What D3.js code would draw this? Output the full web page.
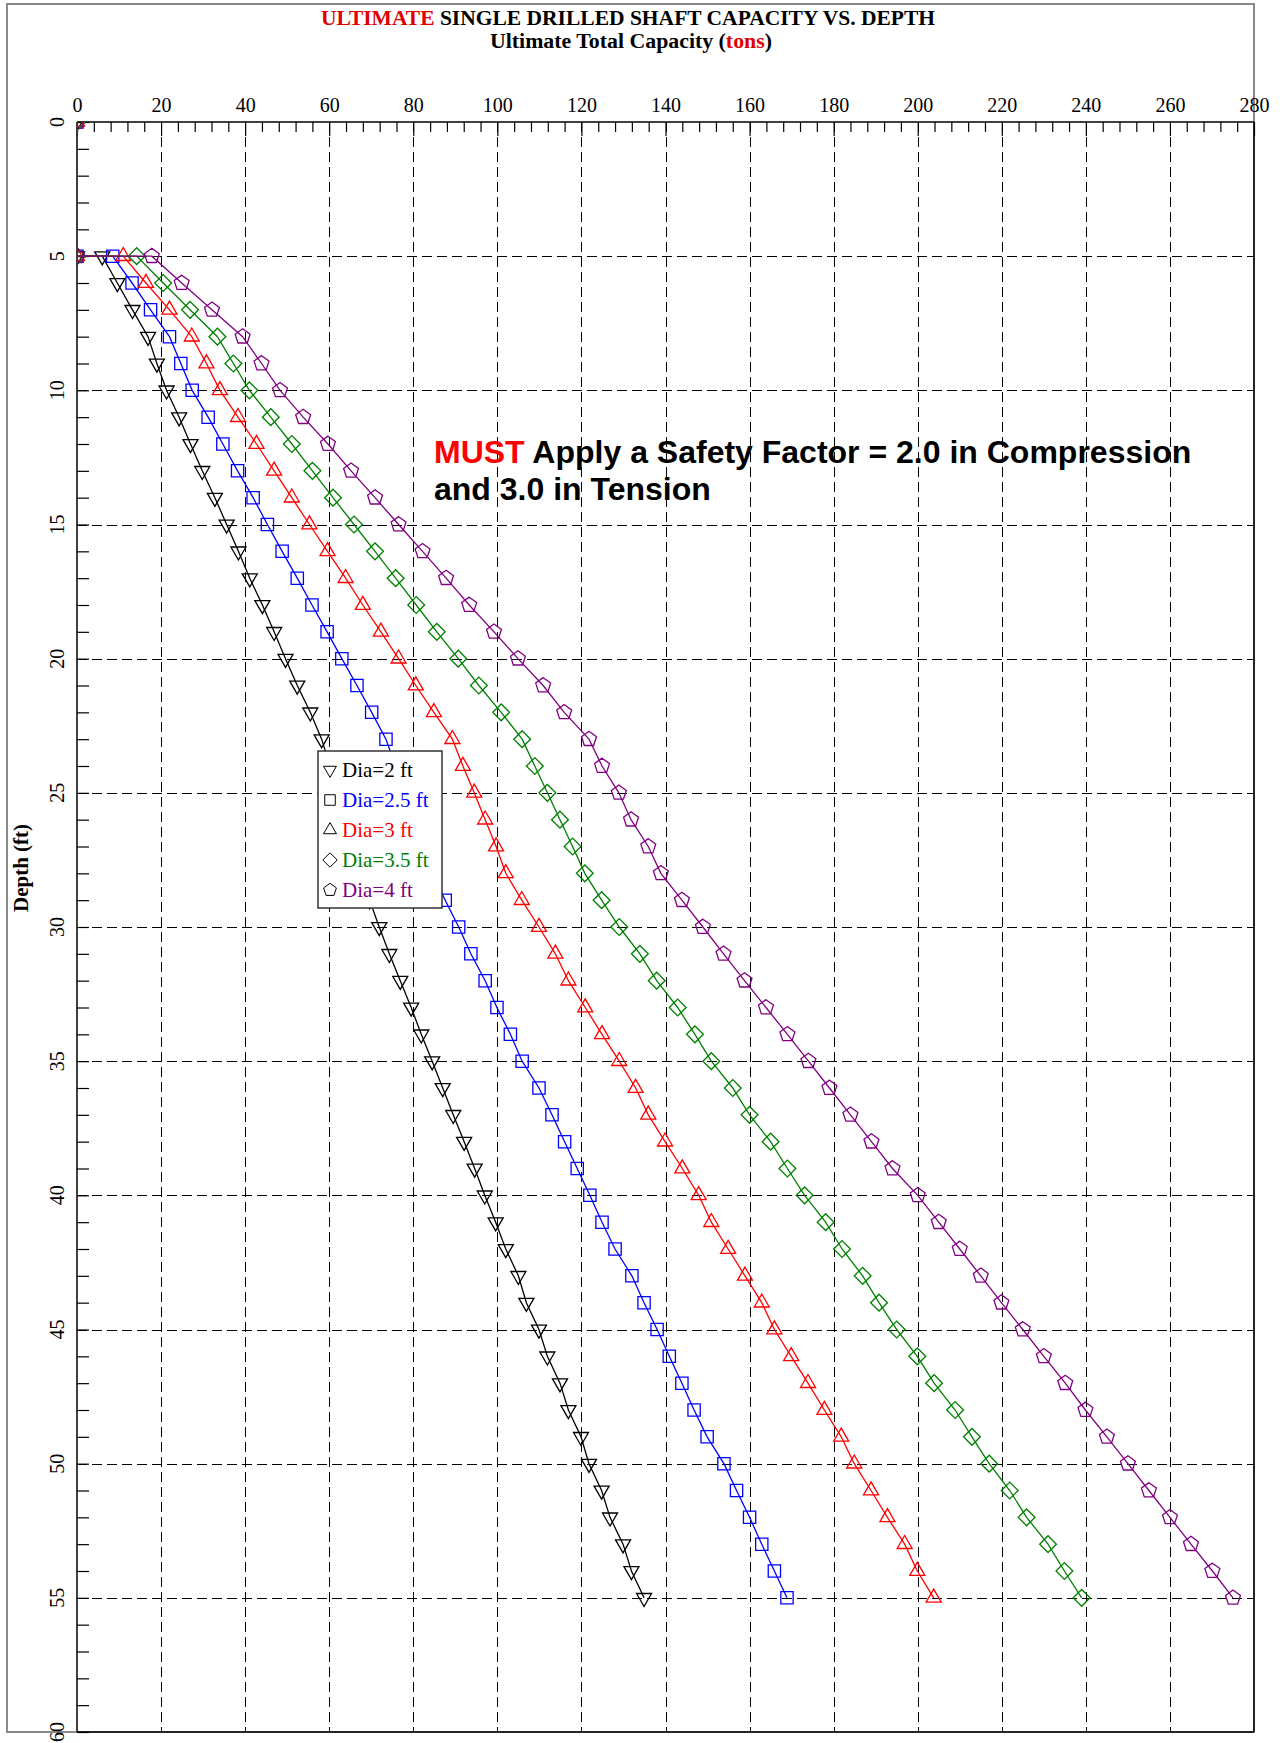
<!DOCTYPE html>
<html lang="en">
<head>
<meta charset="UTF-8">
<title>Ultimate Single Drilled Shaft Capacity vs. Depth</title>
<script src="https://d3js.org/d3.v7.min.js"></script>
<style>
    body { margin: 0; background: #fff; }
    svg { display: block; }
    .serif { font-family: "Liberation Serif", "Times New Roman", serif; }
    .sans { font-family: "Liberation Sans", Arial, sans-serif; }
    .grid line { stroke: #000; stroke-width: 1; stroke-dasharray: 10,5; }
    .axis path { display: none; }
    .axis line { stroke: #000; stroke-width: 1.2; }
</style>
</head>
<body>
<svg id="chart" width="1282" height="1743"></svg>
<script>
// depth of every point (ft); top 5 ft are zero, then a jump at 5 ft
const depths = [0, 5, 5, 6, 7, 8, 9, 10, 11, 12, 13, 14, 15, 16, 17, 18, 19, 20,
    21, 22, 23, 24, 25, 26, 27, 28, 29, 30, 31, 32, 33, 34, 35, 36, 37, 38, 39, 40,
    41, 42, 43, 44, 45, 46, 47, 48, 49, 50, 51, 52, 53, 54, 55];

// ultimate total capacity (tons) for each diameter
const dia2 = [0, 0, 6.0, 9.6, 13.2, 16.9, 19.0, 21.3, 24.3, 27.0, 29.8, 32.8, 35.6, 38.4, 41.1, 44.1, 46.9, 49.6,
    52.4, 55.5, 58.2, 60.2, 62.2, 64.2, 66.0, 67.8, 69.6, 71.9, 74.3, 76.9, 79.5, 81.9, 84.5, 87.0, 89.5, 92.1, 94.6, 97.0,
    99.6, 102.0, 105.0, 106.9, 109.9, 111.9, 114.9, 116.9, 119.9, 121.8, 124.8, 126.8, 129.9, 131.9, 134.9];
const dia25 = [0, 0, 8.5, 13.1, 17.5, 22.0, 24.7, 27.4, 31.2, 34.7, 38.2, 41.9, 45.3, 48.8, 52.4, 55.9, 59.5, 63.0,
    66.6, 70.1, 73.5, 75.8, 78.0, 80.2, 82.4, 84.5, 87.6, 90.8, 93.7, 97.1, 99.9, 103.1, 105.9, 109.9, 113.0, 116.0, 119.0, 122.0,
    124.9, 128.0, 132.0, 134.9, 138.0, 140.9, 143.9, 146.8, 149.9, 153.9, 156.9, 160.0, 162.9, 165.9, 168.9];
const dia3 = [0, 0, 11.0, 16.4, 22.0, 27.3, 30.8, 34.0, 38.3, 42.7, 46.9, 51.1, 55.3, 59.6, 63.9, 68.0, 72.3, 76.5,
    80.6, 84.9, 89.3, 91.8, 94.5, 97.1, 99.7, 102.0, 105.8, 109.9, 113.8, 116.9, 120.9, 124.9, 129.0, 132.9, 135.9, 139.9, 144.0, 147.9,
    150.9, 154.9, 158.9, 162.9, 165.9, 169.9, 173.9, 177.8, 181.8, 184.9, 188.9, 192.8, 196.9, 199.9, 203.8];
const dia35 = [0, 0, 14.2, 20.5, 26.9, 33.4, 37.2, 41.0, 46.1, 51.1, 56.0, 60.9, 65.9, 70.9, 75.8, 80.7, 85.6, 90.7,
    95.6, 100.9, 105.9, 108.9, 111.9, 114.9, 117.9, 120.8, 124.8, 129.0, 133.9, 137.9, 142.9, 147.0, 150.9, 156.0, 160.0, 165.0, 169.0, 173.1,
    178.1, 182.0, 186.9, 190.8, 195.0, 199.9, 203.9, 208.9, 212.9, 217.0, 221.9, 225.9, 231.0, 234.9, 239.0];
const dia4 = [0, 0, 17.8, 24.9, 32.1, 39.4, 43.9, 48.3, 53.8, 59.7, 65.2, 70.9, 76.5, 82.2, 87.8, 93.3, 99.2, 104.9,
    110.9, 115.9, 121.8, 124.9, 128.9, 131.8, 135.9, 138.9, 143.9, 148.9, 153.8, 158.8, 163.9, 169.0, 174.0, 179.0, 184.0, 189.0, 194.0, 200.0,
    205.0, 210.0, 215.0, 219.9, 225.0, 230.0, 235.1, 239.9, 245.0, 250.0, 255.0, 260.0, 265.0, 270.1, 275.0];

const seriesNames = ["Dia=2 ft", "Dia=2.5 ft", "Dia=3 ft", "Dia=3.5 ft", "Dia=4 ft"];
const seriesValues = [dia2, dia25, dia3, dia35, dia4];
const seriesColors = ["#000000", "#0000ff", "#ff0000", "#008000", "#800080"];
const seriesMarkers = ["triDown", "square", "triUp", "diamond", "pentagon"];

const xTicks = d3.range(0, 281, 20);
const yTicks = d3.range(0, 61, 5);

// ---- layout ----
const svg = d3.select("#chart");
const pLeft = 77, pRight = 1254, pTop = 122, pBottom = 1732;

const x = d3.scaleLinear().domain([0, 280]).range([pLeft, pRight]);
const y = d3.scaleLinear().domain([0, 60]).range([pTop, pBottom]);
const snap = v => Math.round(v) + 0.5;   // keep 1px lines sharp

// outer frame
svg.append("rect")
    .attr("x", 7).attr("y", 4)
    .attr("width", pRight - 7).attr("height", pBottom - 4)
    .attr("fill", "none").attr("stroke", "#8a8a8a").attr("stroke-width", 2);

// titles
const title = svg.append("text").attr("class", "serif")
    .attr("x", 628).attr("y", 25)
    .attr("text-anchor", "middle")
    .attr("font-size", 20).attr("font-weight", "bold");
title.append("tspan").attr("fill", "#e00000").text("ULTIMATE");
title.append("tspan").attr("fill", "#000").text(" SINGLE DRILLED SHAFT CAPACITY VS. DEPTH");

const sub = svg.append("text").attr("class", "serif")
    .attr("x", 631).attr("y", 48)
    .attr("text-anchor", "middle")
    .attr("font-size", 20).attr("font-weight", "bold");
sub.append("tspan").text("Ultimate Total Capacity  (");
sub.append("tspan").attr("fill", "#e00000").text("tons");
sub.append("tspan").text(")");

// squeeze titles to the measured widths
function fitWidth(sel, w) {
    sel.attr("textLength", w).attr("lengthAdjust", "spacingAndGlyphs");
}
fitWidth(title, 614);
fitWidth(sub, 282);

// y axis label
svg.append("text").attr("class", "serif")
    .attr("transform", `translate(28,868) rotate(-90)`)
    .attr("text-anchor", "middle")
    .attr("font-size", 21).attr("font-weight", "bold")
    .text("Depth (ft)");

// grid
const grid = svg.append("g").attr("class", "grid");
grid.selectAll(".vx").data(xTicks.filter(d => d > 0 && d < 280)).enter().append("line")
    .attr("x1", d => snap(x(d))).attr("x2", d => snap(x(d)))
    .attr("y1", pTop).attr("y2", pBottom);
grid.selectAll(".hy").data(yTicks.filter(d => d > 0 && d < 60)).enter().append("line")
    .attr("x1", pLeft).attr("x2", pRight)
    .attr("y1", d => snap(y(d))).attr("y2", d => snap(y(d)));

// top axis: minor ticks every 4, major every 20
svg.append("g").attr("class", "axis")
    .attr("transform", `translate(0,${pTop})`)
    .call(d3.axisTop(x).tickValues(d3.range(0, 281, 4).filter(d => d % 20 !== 0)).tickSize(-10).tickFormat(""));
const topAxis = svg.append("g").attr("class", "axis serif")
    .attr("transform", `translate(0,${pTop})`)
    .call(d3.axisTop(x).tickValues(xTicks).tickSize(-14).tickPadding(10));
topAxis.selectAll("text").attr("font-size", 20).attr("font-family", "Liberation Serif").attr("fill", "#000");

// left axis: minor ticks each foot
svg.append("g").attr("class", "axis")
    .attr("transform", `translate(${pLeft},0)`)
    .call(d3.axisLeft(y).tickValues(d3.range(0, 61, 1)).tickSize(-12).tickFormat(""));
svg.append("g").selectAll("text").data(yTicks).enter().append("text")
    .attr("class", "serif")
    .attr("transform", d => `translate(64,${y(d)}) rotate(-90)`)
    .attr("text-anchor", "middle")
    .attr("font-size", 20)
    .text(d => d);

// plot border lines
svg.append("g").selectAll("line")
    .data([[pLeft, pTop, pRight, pTop], [pLeft, pTop, pLeft, pBottom], [pRight, pTop, pRight, pBottom], [pLeft, pBottom, pRight, pBottom]])
    .enter().append("line")
    .attr("x1", d => d[0]).attr("y1", d => d[1]).attr("x2", d => d[2]).attr("y2", d => d[3])
    .attr("stroke", "#000").attr("stroke-width", 1.5);

// annotation
const note = svg.append("text").attr("class", "sans")
    .attr("x", 434).attr("y", 463)
    .attr("font-size", 32).attr("font-weight", "bold");
note.append("tspan").attr("fill", "#ff0000").text("MUST");
note.append("tspan").attr("fill", "#000").text(" Apply a Safety Factor = 2.0 in Compression");
svg.append("text").attr("class", "sans")
    .attr("x", 434).attr("y", 500)
    .attr("font-size", 32).attr("font-weight", "bold")
    .text("and 3.0 in Tension");

// marker shapes
function poly(n, r, rot) {
    return d3.range(n).map(i => {
        const a = rot + i * 2 * Math.PI / n;
        return [r * Math.cos(a), r * Math.sin(a)];
    });
}
const shapes = {
    triDown: s => poly(3, s * 0.62, Math.PI / 2),
    triUp: s => poly(3, s * 0.62, -Math.PI / 2),
    square: s => poly(4, s * 0.62, Math.PI / 4),
    diamond: s => poly(4, s * 0.6, 0),
    pentagon: s => poly(5, s * 0.56, -Math.PI / 2)
};
function markerPath(kind, s) {
    return d3.line().curve(d3.curveLinearClosed)(shapes[kind](s));
}

// clip to plot area
svg.append("clipPath").attr("id", "plotClip").append("rect")
    .attr("x", pLeft).attr("y", pTop).attr("width", pRight - pLeft).attr("height", pBottom - pTop);

const line = d3.line().x(d => x(d.v)).y(d => y(d.d));
const plot = svg.append("g").attr("clip-path", "url(#plotClip)");

seriesValues.forEach((vals, i) => {
    const pts = vals.map((v, j) => ({ v: v, d: depths[j] }));
    const g = plot.append("g");
    g.append("path").datum(pts)
        .attr("d", line)
        .attr("fill", "none")
        .attr("stroke", seriesColors[i])
        .attr("stroke-width", 1.3);
    g.selectAll("path.m").data(pts).enter().append("path")
        .attr("class", "m")
        .attr("transform", d => `translate(${x(d.v)},${y(d.d)})`)
        .attr("d", markerPath(seriesMarkers[i], 14))
        .attr("fill", "none")
        .attr("stroke", seriesColors[i])
        .attr("stroke-width", 1.3);
});

// legend
const legend = svg.append("g");
legend.append("rect")
    .attr("x", 318).attr("y", 751).attr("width", 124).attr("height", 157)
    .attr("fill", "#fff").attr("stroke", "#333").attr("stroke-width", 1.5);
seriesNames.forEach((name, i) => {
    const cy = 770 + i * 30;
    legend.append("path")
        .attr("transform", `translate(330,${cy})`)
        .attr("d", markerPath(seriesMarkers[i], 12))
        .attr("fill", "none").attr("stroke", "#000").attr("stroke-width", 1);
    legend.append("text").attr("class", "serif")
        .attr("x", 342).attr("y", cy + 7)
        .attr("font-size", 21)
        .attr("fill", seriesColors[i])
        .text(name);
});
</script>
</body>
</html>
